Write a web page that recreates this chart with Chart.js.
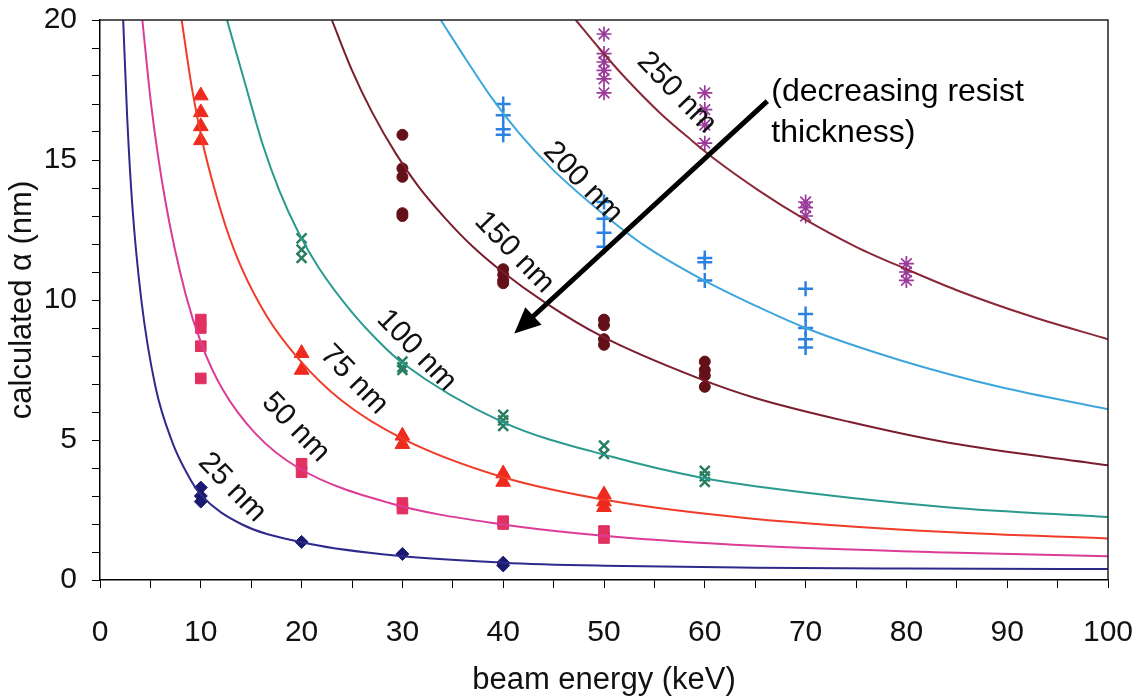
<!DOCTYPE html>
<html>
<head>
<meta charset="utf-8">
<script src="https://cdn.jsdelivr.net/npm/chart.js@4.4.1/dist/chart.umd.min.js"></script>
<style>
  html, body { margin: 0; padding: 0; background: #fff; }
</style>
</head>
<body>
<canvas id="chart" width="1140" height="696"></canvas>
<script>
// resist thickness labels for the fitted curves
const curveNames = ['25 nm', '50 nm', '75 nm', '100 nm', '150 nm', '200 nm', '250 nm'];

// fitted curves (beam energy keV -> alpha nm)
const fit25E = [2.3, 2.7, 3.2, 4.1, 5.5, 7.2, 8.8, 10, 14, 20, 28, 40, 50, 65, 80, 100];
const fit25A = [20, 16.5, 13.4, 10, 6.9, 4.9, 3.7, 3.05, 2.0, 1.35, 0.92, 0.62, 0.51, 0.44, 0.41, 0.39];
const fit50E = [4.2, 5.1, 6.5, 8.5, 10.1, 12.1, 15.5, 19.7, 28.7, 40, 50.8, 65, 84, 100];
const fit50A = [20, 16.9, 13.5, 10.2, 8.4, 6.85, 5.2, 4.0, 2.75, 1.98, 1.55, 1.22, 0.98, 0.85];
const fit75E = [8.1, 9.1, 10.1, 11.1, 12.5, 14.1, 16.5, 19.7, 24, 30, 39.9, 50.8, 64.5, 84, 100];
const fit75A = [20, 17.6, 15.75, 14.3, 12.6, 11.1, 9.45, 7.9, 6.4, 5.05, 3.68, 2.82, 2.2, 1.71, 1.48];
const fit100E = [12.6, 14.5, 16.1, 17.8, 19.7, 21.7, 24.9, 27.7, 30, 39.9, 50.8, 59.7, 65, 84, 100];
const fit100A = [20, 17.6, 15.6, 13.9, 12.4, 11.15, 9.6, 8.5, 7.75, 5.65, 4.4, 3.65, 3.35, 2.6, 2.25];
const fit150E = [23, 25, 27, 29.4, 31.6, 34.3, 37, 39.6, 44.2, 49.8, 59.4, 65, 74.3, 84.2, 100];
const fit150A = [20, 18.2, 16.7, 15.2, 14.05, 12.9, 11.9, 11.1, 9.9, 8.7, 7.2, 6.5, 5.65, 4.9, 4.1];
const fit200E = [33.8, 36.3, 38.9, 41.6, 44.8, 49.5, 54, 59.4, 65, 70, 79.3, 89.2, 100];
const fit200A = [20, 18.6, 17.2, 15.95, 14.7, 13.2, 11.95, 10.8, 9.8, 9.0, 7.86, 6.9, 6.1];
const fit250E = [47.2, 49.5, 52.2, 55.5, 58.7, 61.1, 65.4, 69.6, 75, 80, 85, 92.5, 100];
const fit250A = [20, 19.0, 17.9, 16.7, 15.7, 15.0, 13.9, 12.95, 11.9, 11.1, 10.35, 9.4, 8.6];

// measured points
const pts25E = [10, 10, 10, 20, 30, 40, 40];
const pts25A = [3.3, 3.0, 2.8, 1.36, 0.93, 0.62, 0.52];
const pts50E = [10, 10, 10, 10, 20, 20, 30, 30, 40, 40, 50, 50];
const pts50A = [9.3, 9.0, 8.35, 7.2, 4.15, 3.85, 2.75, 2.55, 2.1, 2.0, 1.75, 1.5];
const pts75E = [10, 10, 10, 10, 20, 20, 30, 30, 40, 40, 50, 50, 50];
const pts75A = [17.3, 16.7, 16.2, 15.7, 8.1, 7.5, 5.15, 4.85, 3.8, 3.5, 3.05, 2.8, 2.6];
const pts100E = [20, 20, 20, 30, 30, 30, 40, 40, 40, 50, 50, 60, 60, 60];
const pts100A = [12.2, 11.8, 11.5, 7.8, 7.6, 7.5, 5.9, 5.7, 5.5, 4.8, 4.5, 3.9, 3.7, 3.5];
const pts150E = [30, 30, 30, 30, 30, 40, 40, 40, 40, 50, 50, 50, 50, 60, 60, 60, 60];
const pts150A = [15.9, 14.7, 14.4, 13.1, 13.0, 11.1, 10.9, 10.7, 10.6, 9.3, 9.1, 8.6, 8.4, 7.8, 7.5, 7.3, 6.9];
const pts200E = [40, 40, 40, 40, 50, 50, 50, 50, 60, 60, 60, 70, 70, 70, 70, 70];
const pts200A = [17.0, 16.6, 16.1, 15.9, 13.5, 12.9, 12.4, 11.9, 11.5, 11.35, 10.7, 10.4, 9.5, 9.0, 8.6, 8.3];
const pts250E = [50, 50, 50, 50, 50, 50, 60, 60, 60, 60, 70, 70, 70, 80, 80, 80];
const pts250A = [19.5, 18.8, 18.5, 18.2, 17.9, 17.4, 17.4, 16.8, 16.25, 15.6, 13.5, 13.3, 13.0, 11.3, 11.0, 10.7];

const FONT = '"Liberation Sans", Arial, sans-serif';

const lineColors = ['#2e2a8c', '#dc3c96', '#f03c28', '#2a9a8e', '#7a1e2e', '#3ea6dc', '#8a2838'];
const markColors = ['#1c1a6e', '#e23060', '#ee2a1e', '#2a7e62', '#641018', '#2c82e0', '#9a3a9a'];
const markStyles = ['rectRot', 'rect', 'triangle', 'crossRot', 'circle', 'cross', 'star'];
const markRadius = [6.5, 7.5, 8.5, 7, 5.5, 7.5, 7.5];
const markBorder = [1, 1, 1, 2.5, 1, 2.5, 1.7];

const fits = [[fit25E, fit25A], [fit50E, fit50A], [fit75E, fit75A], [fit100E, fit100A],
              [fit150E, fit150A], [fit200E, fit200A], [fit250E, fit250A]];
const pts = [[pts25E, pts25A], [pts50E, pts50A], [pts75E, pts75A], [pts100E, pts100A],
             [pts150E, pts150A], [pts200E, pts200A], [pts250E, pts250A]];

function toXY(xs, ys) {
    return xs.map((v, i) => ({ x: v, y: ys[i] }));
}

const datasets = [];
fits.forEach((f, i) => {
    datasets.push({
        label: curveNames[i] + ' fit',
        data: toXY(f[0], f[1]),
        showLine: true,
        borderColor: lineColors[i],
        borderWidth: 2,
        pointRadius: 0,
        cubicInterpolationMode: 'monotone',
        fill: false
    });
});
pts.forEach((p, i) => {
    const hollow = ['crossRot', 'cross', 'star'].includes(markStyles[i]);
    datasets.push({
        label: curveNames[i],
        data: toXY(p[0], p[1]),
        showLine: false,
        pointStyle: markStyles[i],
        pointRadius: markRadius[i],
        pointBorderWidth: markBorder[i],
        pointBorderColor: markColors[i],
        pointBackgroundColor: hollow ? 'transparent' : markColors[i]
    });
});

// frame, curve labels and the annotation arrow
const notesPlugin = {
    id: 'notes',
    afterDatasetsDraw(chart) {
        const { ctx, chartArea: a, scales: { x, y } } = chart;
        ctx.save();
        ctx.strokeStyle = '#222';
        ctx.lineWidth = 1.5;
        ctx.beginPath();
        ctx.moveTo(a.left, a.top);
        ctx.lineTo(a.right, a.top);
        ctx.lineTo(a.right, a.bottom);
        ctx.stroke();

        // label anchors in data units (keV, nm)
        const labelAt = [[13.1, 3.3], [19.4, 5.45], [25.2, 7.15], [31.4, 8.2], [41.1, 11.7], [47.9, 14.2], [57.2, 17.4]];
        ctx.font = '30px ' + FONT;
        ctx.fillStyle = '#111';
        ctx.textAlign = 'center';
        ctx.textBaseline = 'middle';
        curveNames.forEach((name, i) => {
            ctx.save();
            ctx.translate(x.getPixelForValue(labelAt[i][0]), y.getPixelForValue(labelAt[i][1]));
            ctx.rotate(46 * Math.PI / 180);
            ctx.fillText(name, 0, 0);
            ctx.restore();
        });

        // arrow
        const x0 = x.getPixelForValue(66.2), y0 = y.getPixelForValue(17.1);
        const x1 = x.getPixelForValue(41.1), y1 = y.getPixelForValue(8.8);
        const ang = Math.atan2(y1 - y0, x1 - x0);
        const headLen = 26, headHalf = 12;
        ctx.strokeStyle = '#000';
        ctx.fillStyle = '#000';
        ctx.lineWidth = 5;
        ctx.beginPath();
        ctx.moveTo(x0, y0);
        ctx.lineTo(x1 - Math.cos(ang) * (headLen - 4), y1 - Math.sin(ang) * (headLen - 4));
        ctx.stroke();
        ctx.beginPath();
        ctx.moveTo(x1, y1);
        ctx.lineTo(x1 - Math.cos(ang) * headLen - Math.sin(ang) * headHalf,
                   y1 - Math.sin(ang) * headLen + Math.cos(ang) * headHalf);
        ctx.lineTo(x1 - Math.cos(ang) * headLen + Math.sin(ang) * headHalf,
                   y1 - Math.sin(ang) * headLen - Math.cos(ang) * headHalf);
        ctx.closePath();
        ctx.fill();

        ctx.font = '32px ' + FONT;
        ctx.textAlign = 'left';
        ctx.textBaseline = 'alphabetic';
        ctx.fillText('(decreasing resist', x.getPixelForValue(66.6), y.getPixelForValue(17.1));
        ctx.fillText('thickness)', x.getPixelForValue(66.6), y.getPixelForValue(15.65));
        ctx.restore();
    }
};

new Chart(document.getElementById('chart').getContext('2d'), {
    type: 'scatter',
    data: { datasets: datasets },
    options: {
        responsive: false,
        animation: false,
        layout: { padding: { top: 20, right: 32, left: 0, bottom: 0 } },
        plugins: {
            legend: { display: false },
            tooltip: { enabled: false }
        },
        scales: {
            x: {
                type: 'linear',
                min: 0,
                max: 100,
                afterFit: scale => {
                    scale.height = 116;
                    scale.paddingLeft = 0;
                    scale.paddingRight = 0;
                },
                grid: { drawOnChartArea: false, drawTicks: true, tickLength: 8, color: '#000' },
                border: { display: true, color: '#000', width: 1.5 },
                ticks: {
                    stepSize: 5,
                    autoSkip: false,
                    maxRotation: 0,
                    padding: 27,
                    color: '#111',
                    font: { family: FONT, size: 30 },
                    callback: v => (v % 10 === 0 ? v : '')
                },
                title: {
                    display: true,
                    text: 'beam energy (keV)',
                    color: '#111',
                    font: { family: FONT, size: 31, lineHeight: 0.9 },
                    padding: { top: 0, bottom: 2 }
                }
            },
            y: {
                type: 'linear',
                min: 0,
                max: 20,
                afterFit: scale => {
                    scale.width = 100;
                    scale.paddingTop = 0;
                    scale.paddingBottom = 0;
                },
                grid: { drawOnChartArea: false, drawTicks: true, tickLength: 8, color: '#000' },
                border: { display: true, color: '#000', width: 1.5 },
                ticks: {
                    stepSize: 1,
                    autoSkip: false,
                    padding: 15,
                    color: '#111',
                    font: { family: FONT, size: 30 },
                    callback: v => (v % 5 === 0 ? v : '')
                },
                title: {
                    display: true,
                    text: 'calculated \u03b1 (nm)',
                    color: '#111',
                    font: { family: FONT, size: 31 },
                    padding: { top: 4, bottom: 0 }
                }
            }
        }
    },
    plugins: [notesPlugin]
});
</script>
</body>
</html>
